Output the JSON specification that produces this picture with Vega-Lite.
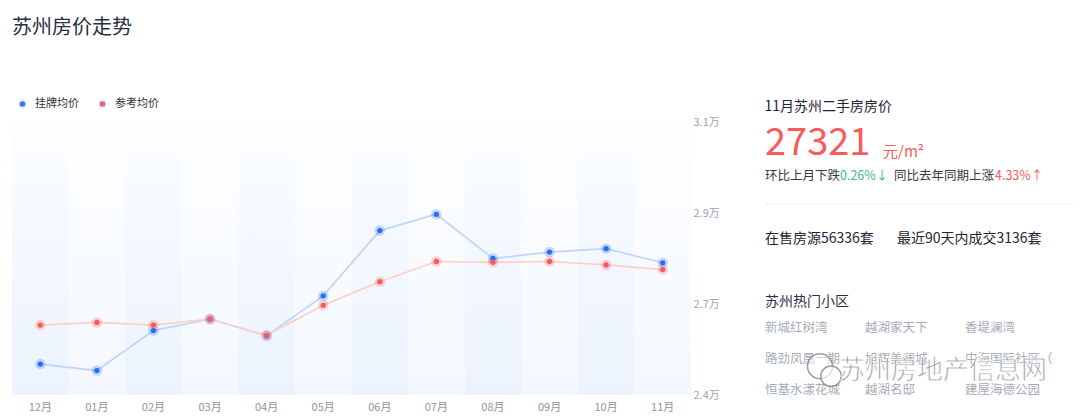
{
  "$schema": "https://vega.github.io/schema/vega-lite/v6.json",
  "padding": {"left": 11, "top": 17, "right": 0, "bottom": 0},
  "background": "white",
  "config": {"font": "Noto Sans CJK SC", "view": {"stroke": "transparent"}, "concat": {"spacing": 44}},
  "resolve": {"scale": {"color": "independent"}, "legend": {"color": "independent"}},
  "datasets": {
    "prices": [
      {"month": "12月", "series": "挂牌均价", "value": 25120},
      {"month": "01月", "series": "挂牌均价", "value": 24970},
      {"month": "02月", "series": "挂牌均价", "value": 25900},
      {"month": "03月", "series": "挂牌均价", "value": 26170},
      {"month": "04月", "series": "挂牌均价", "value": 25780},
      {"month": "05月", "series": "挂牌均价", "value": 26710},
      {"month": "06月", "series": "挂牌均价", "value": 28230},
      {"month": "07月", "series": "挂牌均价", "value": 28610},
      {"month": "08月", "series": "挂牌均价", "value": 27580},
      {"month": "09月", "series": "挂牌均价", "value": 27730},
      {"month": "10月", "series": "挂牌均价", "value": 27810},
      {"month": "11月", "series": "挂牌均价", "value": 27480},
      {"month": "12月", "series": "参考均价", "value": 26030},
      {"month": "01月", "series": "参考均价", "value": 26090},
      {"month": "02月", "series": "参考均价", "value": 26030},
      {"month": "03月", "series": "参考均价", "value": 26170},
      {"month": "04月", "series": "参考均价", "value": 25790},
      {"month": "05月", "series": "参考均价", "value": 26490},
      {"month": "06月", "series": "参考均价", "value": 27040},
      {"month": "07月", "series": "参考均价", "value": 27510},
      {"month": "08月", "series": "参考均价", "value": 27490},
      {"month": "09月", "series": "参考均价", "value": 27510},
      {"month": "10月", "series": "参考均价", "value": 27430},
      {"month": "11月", "series": "参考均价", "value": 27321}
    ],
    "months": [
      {"month": "12月"}, {"month": "01月"}, {"month": "02月"}, {"month": "03月"},
      {"month": "04月"}, {"month": "05月"}, {"month": "06月"}, {"month": "07月"},
      {"month": "08月"}, {"month": "09月"}, {"month": "10月"}, {"month": "11月"}
    ],
    "bands": [
      {"month": "12月"}, {"month": "02月"}, {"month": "04月"},
      {"month": "06月"}, {"month": "08月"}, {"month": "10月"}
    ],
    "panel": [
      {"kind": "price", "slot": "price", "col": "a", "text": "27321"},
      {"kind": "unit", "slot": "price", "col": "a", "text": "元/m²"},
      {"kind": "chg1", "slot": "change", "col": "a", "text": "环比上月下跌"},
      {"kind": "chg2", "slot": "change", "col": "a", "text": "0.26%↓"},
      {"kind": "chg3", "slot": "change", "col": "a", "text": "同比去年同期上涨"},
      {"kind": "chg4", "slot": "change", "col": "a", "text": "4.33%↑"},
      {"kind": "divider", "slot": "divider", "col": "a", "text": ""},
      {"kind": "stat1", "slot": "stats", "col": "a", "text": "在售房源56336套"},
      {"kind": "stat2", "slot": "stats", "col": "a", "text": "最近90天内成交3136套"},
      {"kind": "hottitle", "slot": "hot", "col": "a", "text": "苏州热门小区"},
      {"kind": "hot", "slot": "hot1", "col": "a", "text": "新城红树湾"},
      {"kind": "hot", "slot": "hot1", "col": "b", "text": "越湖家天下"},
      {"kind": "hot", "slot": "hot1", "col": "c", "text": "香堤澜湾"},
      {"kind": "hot", "slot": "hot2", "col": "a", "text": "路劲凤凰一期"},
      {"kind": "hot", "slot": "hot2", "col": "b", "text": "旭辉美澜城"},
      {"kind": "hot", "slot": "hot2", "col": "c", "text": "中海国际社区（"},
      {"kind": "hot", "slot": "hot3", "col": "a", "text": "恒基水漾花城"},
      {"kind": "hot", "slot": "hot3", "col": "b", "text": "越湖名邸"},
      {"kind": "hot", "slot": "hot3", "col": "c", "text": "建屋海德公园"},
      {"kind": "icon", "slot": "hot2", "col": "a", "text": ""},
      {"kind": "mark", "slot": "hot2", "col": "b", "text": "苏州房地产信息网"}
    ]
  },
  "hconcat": [
    {
      "width": 679,
      "height": 273,
      "title": {"text": "苏州房价走势", "anchor": "start", "fontSize": 20, "fontWeight": "normal", "color": "#2b3040", "offset": 60},
      "encoding": {
        "x": {
          "field": "month", "type": "ordinal",
          "scale": {"type": "band", "domain": ["12月", "01月", "02月", "03月", "04月", "05月", "06月", "07月", "08月", "09月", "10月", "11月"], "paddingInner": 0, "paddingOuter": 0},
          "axis": {"title": null, "domain": false, "ticks": false, "labelPadding": 6, "labelColor": "#8e94a1", "labelFontSize": 11, "labelAngle": 0}
        }
      },
      "layer": [
        {
          "data": {"name": "months"},
          "mark": {"type": "bar", "color": {"gradient": "linear", "x1": 0, "y1": 0, "x2": 0, "y2": 1, "stops": [{"offset": 0, "color": "#fdfeff"}, {"offset": 1, "color": "#f4f8fe"}]}},
          "encoding": {
            "y": {"datum": 30760, "type": "quantitative",
              "scale": {"domain": [24400, 30760], "nice": false, "zero": false},
              "axis": {"orient": "right", "values": [24400, 26520, 28640, 30760], "labelExpr": "format(datum.value/10000,'.1f')+'万'", "title": null, "domain": false, "ticks": false, "grid": false, "labelPadding": 2, "labelColor": "#9da3b0", "labelFontSize": 11, "labelFlush": false}},
            "y2": {"datum": 24400}
          }
        },
        {
          "data": {"name": "bands"},
          "mark": {"type": "bar", "color": {"gradient": "linear", "x1": 0, "y1": 0, "x2": 0, "y2": 1, "stops": [{"offset": 0, "color": "rgba(236,244,254,0)"}, {"offset": 0.3, "color": "rgba(236,244,254,0.3)"}, {"offset": 1, "color": "rgba(232,241,254,0.7)"}]}},
          "encoding": {"y": {"datum": 30760, "type": "quantitative"}, "y2": {"datum": 24400}}
        },
        {
          "data": {"name": "prices"},
          "mark": {"type": "line", "strokeWidth": 1.7},
          "encoding": {
            "y": {"field": "value", "type": "quantitative"},
            "stroke": {"field": "series", "type": "nominal", "scale": {"domain": ["挂牌均价", "参考均价"], "range": ["#bdd6fb", "#fdcfc5"]}, "legend": null}
          }
        },
        {
          "data": {"name": "prices"},
          "mark": {"type": "circle", "size": 110, "opacity": 0.25},
          "encoding": {
            "y": {"field": "value", "type": "quantitative"},
            "color": {"field": "series", "type": "nominal", "scale": {"domain": ["挂牌均价", "参考均价"], "range": ["#2b6cf6", "#fa5a5a"]},
              "legend": {"orient": "none", "legendX": 5, "legendY": -24, "direction": "horizontal", "title": null, "symbolType": "circle", "symbolSize": 30, "symbolOpacity": 1, "labelFontSize": 11, "labelColor": "#333333", "columnPadding": 12, "labelOffset": 7, "symbolStrokeWidth": 4, "symbolStrokeColor": "rgba(120,150,250,0.18)"}}
          }
        },
        {
          "data": {"name": "prices"},
          "mark": {"type": "circle", "size": 28, "opacity": 1},
          "encoding": {
            "y": {"field": "value", "type": "quantitative"},
            "color": {"field": "series", "type": "nominal"}
          }
        }
      ]
    },
    {
      "width": 308,
      "height": 309,
      "title": {"text": "11月苏州二手房房价", "anchor": "start", "fontSize": 14, "fontWeight": "normal", "color": "#1e2433", "offset": 8},
      "data": {"name": "panel"},
      "encoding": {
        "y": {"field": "slot", "type": "nominal", "scale": {"type": "point", "domain": ["price", "change", "divider", "stats", "gap", "hot", "hot1", "hot2", "hot3"], "padding": 1, "align": 0.307}, "axis": null}
      },
      "layer": [
        {
          "transform": [{"filter": "datum.kind === 'divider'"}],
          "mark": {"type": "rule", "color": "#eeeff2", "strokeWidth": 1, "yOffset": 1.5}
        },
        {
          "transform": [{"filter": "datum.kind === 'price'"}],
          "mark": {"type": "text", "align": "left", "baseline": "middle", "fontSize": 38, "color": "#fa5a5a", "dy": 3},
          "encoding": {"x": {"field": "col", "type": "nominal", "scale": {"type": "point", "domain": ["a", "b", "c"], "padding": 0.54, "align": 0}, "axis": null}, "text": {"field": "text"}}
        },
        {
          "transform": [{"filter": "datum.kind === 'unit'"}],
          "mark": {"type": "text", "align": "left", "baseline": "middle", "fontSize": 15, "color": "#fa5a5a", "dx": 118, "dy": 11},
          "encoding": {"x": {"field": "col", "type": "nominal"}, "text": {"field": "text"}}
        },
        {
          "transform": [{"filter": "datum.kind === 'chg1'"}],
          "mark": {"type": "text", "align": "left", "baseline": "middle", "fontSize": 12.5, "color": "#333845", "dy": 4},
          "encoding": {"x": {"field": "col", "type": "nominal"}, "text": {"field": "text"}}
        },
        {
          "transform": [{"filter": "datum.kind === 'chg2'"}],
          "mark": {"type": "text", "align": "left", "baseline": "middle", "fontSize": 12.5, "color": "#3dbd7d", "dx": 75, "dy": 4},
          "encoding": {"x": {"field": "col", "type": "nominal"}, "text": {"field": "text"}}
        },
        {
          "transform": [{"filter": "datum.kind === 'chg3'"}],
          "mark": {"type": "text", "align": "left", "baseline": "middle", "fontSize": 12.5, "color": "#333845", "dx": 129, "dy": 4},
          "encoding": {"x": {"field": "col", "type": "nominal"}, "text": {"field": "text"}}
        },
        {
          "transform": [{"filter": "datum.kind === 'chg4'"}],
          "mark": {"type": "text", "align": "left", "baseline": "middle", "fontSize": 12.5, "color": "#fa5a5a", "dx": 230, "dy": 4},
          "encoding": {"x": {"field": "col", "type": "nominal"}, "text": {"field": "text"}}
        },
        {
          "transform": [{"filter": "datum.kind === 'stat1'"}],
          "mark": {"type": "text", "align": "left", "baseline": "middle", "fontSize": 14, "color": "#1e2433", "dy": 5},
          "encoding": {"x": {"field": "col", "type": "nominal"}, "text": {"field": "text"}}
        },
        {
          "transform": [{"filter": "datum.kind === 'stat2'"}],
          "mark": {"type": "text", "align": "left", "baseline": "middle", "fontSize": 14, "color": "#1e2433", "dx": 132, "dy": 5},
          "encoding": {"x": {"field": "col", "type": "nominal"}, "text": {"field": "text"}}
        },
        {
          "transform": [{"filter": "datum.kind === 'hottitle'"}],
          "mark": {"type": "text", "align": "left", "baseline": "middle", "fontSize": 14, "color": "#2b3040", "dy": 7},
          "encoding": {"x": {"field": "col", "type": "nominal"}, "text": {"field": "text"}}
        },
        {
          "transform": [{"filter": "datum.kind === 'hot'"}],
          "mark": {"type": "text", "align": "left", "baseline": "middle", "fontSize": 12.5, "color": "#a6abb6", "dy": 2},
          "encoding": {"x": {"field": "col", "type": "nominal"}, "text": {"field": "text"}}
        },
        {
          "transform": [{"filter": "datum.kind === 'icon'"}],
          "mark": {"type": "point", "shape": "circle", "size": 620, "filled": false, "stroke": "#8a8a8a", "strokeWidth": 1.5, "fill": "#ffffff", "fillOpacity": 0.6, "opacity": 0.85, "xOffset": 55, "yOffset": 9},
          "encoding": {"x": {"field": "col", "type": "nominal"}}
        },
        {
          "transform": [{"filter": "datum.kind === 'icon'"}],
          "mark": {"type": "point", "shape": "circle", "size": 420, "filled": false, "stroke": "#8a8a8a", "strokeWidth": 1.5, "fill": "#ffffff", "fillOpacity": 0.8, "opacity": 0.85, "xOffset": 66, "yOffset": 19},
          "encoding": {"x": {"field": "col", "type": "nominal"}}
        },
        {
          "transform": [{"filter": "datum.kind === 'mark'"}],
          "mark": {"type": "text", "align": "center", "baseline": "middle", "fontSize": 26, "color": "#858585", "stroke": "#ffffff", "strokeWidth": 0.8, "opacity": 0.85, "dx": 78, "dy": 14},
          "encoding": {"x": {"field": "col", "type": "nominal"}, "text": {"field": "text"}}
        }
      ]
    }
  ]
}
